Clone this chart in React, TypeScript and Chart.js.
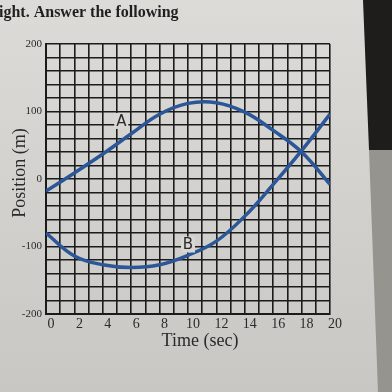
import { useEffect, useRef } from 'react';
import { Chart, registerables } from 'chart.js';

Chart.register(...registerables);

// ---- data ----
const times = [0, 2, 4, 6, 8, 10, 12, 14, 16, 18, 20];
const positionA = [-18, 9, 37, 67, 96, 112, 113, 99, 72, 40, -8];
const positionB = [-80, -114, -127, -131, -127, -113, -92, -55, -8, 42, 96];
const curveNames = ['A', 'B'];
const namePointT = [5.3, 10];
const namePointY = [86, -97];
const headerText = 'ight. Answer the following';
const xTitle = 'Time (sec)';
const yTitle = 'Position (m)';

const SERIF = '"Liberation Serif", "DejaVu Serif", serif';
const LINE = '#2b5698';
const GRID = '#1b1b1b';
const INK = '#2a2a2a';

const backgroundPlugin = {
  id: 'paper',
  beforeDraw(chart: any) {
    const { ctx, width, height } = chart;
    ctx.save();
    const g = ctx.createLinearGradient(0, 0, 0, height);
    g.addColorStop(0, '#dcdbd7');
    g.addColorStop(1, '#c8c7c3');
    ctx.fillStyle = g;
    ctx.fillRect(0, 0, width, height);
    ctx.fillStyle = '#1e1d1b';
    ctx.beginPath();
    ctx.moveTo(363, 0);
    ctx.lineTo(width, 0);
    ctx.lineTo(width, 150);
    ctx.lineTo(369, 150);
    ctx.closePath();
    ctx.fill();
    ctx.fillStyle = '#96948f';
    ctx.beginPath();
    ctx.moveTo(369, 150);
    ctx.lineTo(width, 150);
    ctx.lineTo(width, height);
    ctx.lineTo(378, height);
    ctx.closePath();
    ctx.fill();
    ctx.restore();
  },
};

const textPlugin = {
  id: 'texts',
  afterDatasetsDraw(chart: any) {
    const { ctx, scales } = chart;
    const xs = scales.x;
    const ys = scales.y;
    ctx.save();
    ctx.font = '15px "DejaVu Sans", sans-serif';
    ctx.textAlign = 'center';
    ctx.textBaseline = 'middle';
    curveNames.forEach((name, i) => {
      const px = xs.getPixelForValue(namePointT[i]);
      const py = ys.getPixelForValue(namePointY[i]);
      ctx.fillStyle = '#d8d7d3';
      ctx.fillRect(px - 7, py - 8, 14, 16);
      ctx.fillStyle = INK;
      ctx.fillText(name, px, py + 1);
    });
    ctx.restore();
  },
  afterDraw(chart: any) {
    const { ctx, chartArea } = chart;
    ctx.save();
    ctx.fillStyle = '#1f1f1f';
    ctx.font = '600 16px ' + SERIF;
    ctx.textAlign = 'left';
    ctx.textBaseline = 'alphabetic';
    ctx.fillText(headerText, -1, 17);

    ctx.fillStyle = INK;
    ctx.font = '18px ' + SERIF;
    ctx.textAlign = 'center';
    ctx.textBaseline = 'middle';
    ctx.fillText(xTitle, (chartArea.left + chartArea.right) / 2 + 12, 341);

    ctx.translate(20, 173);
    ctx.rotate(-Math.PI / 2);
    ctx.fillText(yTitle, 0, 0);
    ctx.restore();
  },
};

export default function App() {
  const ref = useRef<HTMLCanvasElement | null>(null);

  useEffect(() => {
    document.body.style.margin = '0';
    const canvas = ref.current;
    if (!canvas) return;
    const chart = new Chart(canvas, {
      type: 'line',
      data: {
        datasets: [
          {
            label: 'A',
            data: times.map((t, i) => ({ x: t, y: positionA[i] })),
            borderColor: LINE,
            borderWidth: 3.5,
            pointRadius: 0,
            tension: 0.4,
            fill: false,
          },
          {
            label: 'B',
            data: times.map((t, i) => ({ x: t, y: positionB[i] })),
            borderColor: LINE,
            borderWidth: 3.5,
            pointRadius: 0,
            tension: 0.4,
            fill: false,
          },
        ],
      },
      options: {
        animation: false,
        responsive: false,
        maintainAspectRatio: false,
        layout: { padding: { left: 0, top: 44, right: 62, bottom: 0 } },
        plugins: {
          legend: { display: false },
          tooltip: { enabled: false },
          title: { display: false },
        },
        scales: {
          x: {
            type: 'linear',
            min: 0,
            max: 20,
            afterFit: (s: any) => {
              s.height = 78;
            },
            grid: { color: GRID, lineWidth: 1.6, drawTicks: false },
            border: { color: GRID, width: 2 },
            ticks: {
              stepSize: 1,
              autoSkip: false,
              maxRotation: 0,
              padding: 2,
              labelOffset: 5,
              color: INK,
              font: { family: SERIF, size: 14 },
              callback: (v: any) => (Number(v) % 2 === 0 ? String(v) : ''),
            },
          },
          y: {
            type: 'linear',
            min: -200,
            max: 200,
            afterFit: (s: any) => {
              s.width = 46;
            },
            grid: { color: GRID, lineWidth: 1.6, drawTicks: false },
            border: { color: GRID, width: 2 },
            ticks: {
              stepSize: 20,
              autoSkip: false,
              padding: 4,
              color: INK,
              font: { family: SERIF, size: 11 },
              callback: (v: any) => (Number(v) % 100 === 0 ? String(v) : ''),
            },
          },
        },
      },
      plugins: [backgroundPlugin, textPlugin],
    });
    return () => chart.destroy();
  }, []);

  return (
    <div style={{ width: 392, height: 392 }}>
      <canvas ref={ref} width={392} height={392} style={{ display: 'block' }} />
    </div>
  );
}
